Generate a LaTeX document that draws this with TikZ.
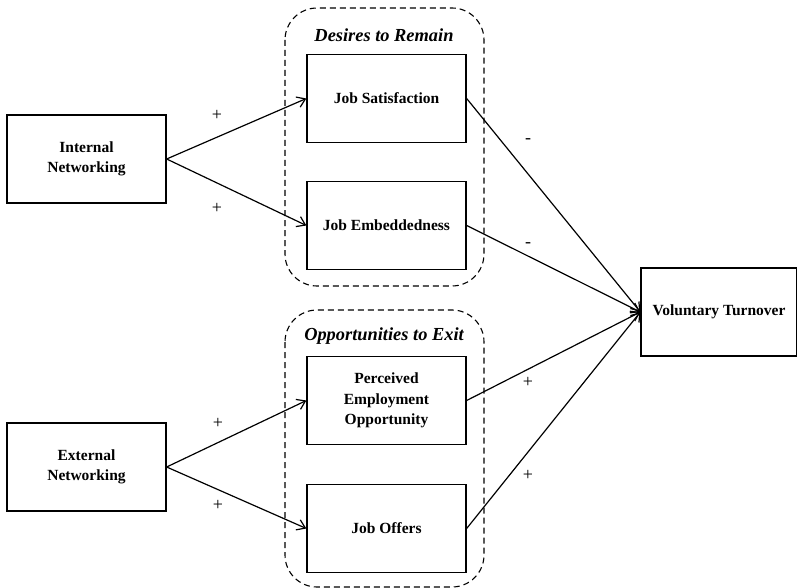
\documentclass[tikz,border=0pt]{standalone}
\usepackage{fontspec}
\setmainfont{Liberation Serif}
\usetikzlibrary{arrows.meta}
\tikzset{
  factor/.style={draw, line width=1.3pt, minimum width=159pt, minimum height=88pt,
    align=center, font=\fontsize{15.5}{20.5}\selectfont\bfseries},
  group/.style={draw, dashed, dash pattern=on 6pt off 4pt, line width=1.1pt, rounded corners=32pt},
  grouptitle/.style={font=\fontsize{18.4}{22}\selectfont\bfseries\itshape},
  sign/.style={font=\fontsize{18}{20}\selectfont}
}
\begin{document}
\begin{tikzpicture}[x=1pt, y=-1pt, >={Straight Barb[length=8pt,width=11pt]}, every path/.style={line width=1.2pt}]
	\useasboundingbox (0,0) rectangle (797,588);

	% the two groups
	\draw[group] (285,8) rectangle (484,286);
	\draw[group] (285,310) rectangle (484,587);
	\node[grouptitle]	(remain)	at (384,35)		{Desires to Remain};
	\node[grouptitle]	(exit)		at (384,336)	{Opportunities to Exit};

	\node[factor]	(intnet)	at (86.5,159)	{Internal\\Networking};
	\node[factor]	(extnet)	at (86.5,467)	{External\\Networking};
	\node[factor]	(jobsat)	at (386.5,98.5)	{Job Satisfaction};
	\node[factor]	(jobemb)	at (386.5,225.5)	{Job Embeddedness};
	\node[factor]	(peo)		at (386.5,400.5)	{Perceived\\Employment\\Opportunity};
	\node[factor]	(offers)	at (386.5,528.5)	{Job Offers};
	\node[factor, minimum width=156pt]	(turnover)	at (719,312)	{Voluntary Turnover};

	\path[->]
	(intnet.east)	edge	(jobsat.west)
					edge	(jobemb.west)
	(extnet.east)	edge	(peo.west)
					edge	(offers.west)
	(jobsat.east)	edge	(turnover.west)
	(jobemb.east)	edge	(turnover.west)
	(peo.east)		edge	(turnover.west)
	(offers.east)	edge	(turnover.west);

	% signs
	\node[sign]	(s1)	at (217,115)	{+};
	\node[sign]	(s2)	at (217,208)	{+};
	\node[sign]	(s3)	at (218,423)	{+};
	\node[sign]	(s4)	at (218,505)	{+};
	\node[sign]	(s5)	at (528,141)	{-};
	\node[sign]	(s6)	at (528,245)	{-};
	\node[sign]	(s7)	at (528,382)	{+};
	\node[sign]	(s8)	at (528,475)	{+};
\end{tikzpicture}
\end{document}
